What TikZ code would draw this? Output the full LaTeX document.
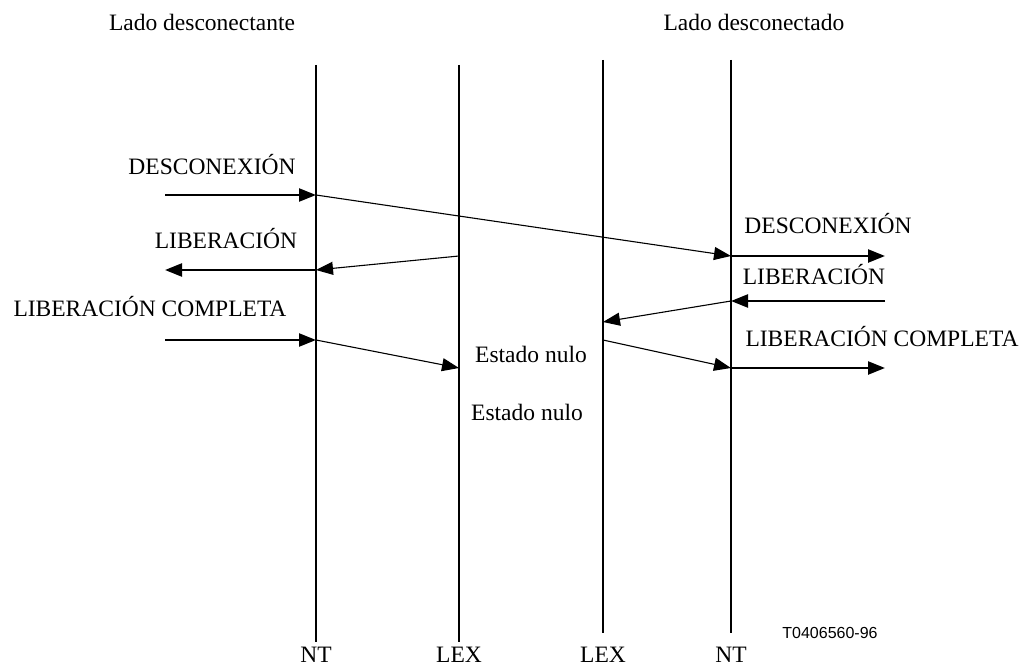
\documentclass[tikz,border=0pt]{standalone}
\usepackage{fontspec}
\setmainfont{Liberation Serif}
\newfontfamily\labsans{Liberation Sans}
\usetikzlibrary{arrows.meta}
\begin{document}
\begin{tikzpicture}[x=1pt,y=-1pt,
  lifeline/.style={line width=1.8pt},
  thickmsg/.style={line width=2.4pt,-{Triangle[length=17pt,width=13pt]}},
  thinmsg/.style={line width=1.1pt,-{Triangle[length=17pt,width=13pt]}},
  lab/.style={anchor=base,inner sep=0pt,font=\fontsize{23.5}{26}\selectfont},
  fig/.style={anchor=base,inner sep=0pt,font=\labsans\fontsize{16}{18}\selectfont}]
\useasboundingbox (0,0) rectangle (1023,666);
% lifelines
\coordinate (ntAt) at (316,65);  \coordinate (ntAb) at (316,642);
\coordinate (lexAt) at (459,65); \coordinate (lexAb) at (459,642);
\coordinate (lexBt) at (603,60); \coordinate (lexBb) at (603,633);
\coordinate (ntBt) at (731,60);  \coordinate (ntBb) at (731,633);
\draw[lifeline] (ntAt) -- (ntAb);
\draw[lifeline] (lexAt) -- (lexAb);
\draw[lifeline] (lexBt) -- (lexBb);
\draw[lifeline] (ntBt) -- (ntBb);
% headers
\node[lab] (hdrA) at (202,31) {Lado desconectante};
\node[lab] (hdrB) at (754,31) {Lado desconectado};
% bottom labels
\node[lab] (bNTA) at (316,662) {NT};
\node[lab] (bLEXA) at (459,662) {LEX};
\node[lab] (bLEXB) at (603,662) {LEX};
\node[lab] (bNTB) at (731,662) {NT};
\node[fig] (figid) at (830,638) {T0406560-96};
% message points
\coordinate (d0) at (165,195); \coordinate (d1) at (316,195);
\coordinate (d2) at (731,256); \coordinate (d3) at (885,256);
\coordinate (lr0) at (885,301); \coordinate (lr1) at (731,301);
\coordinate (lr2) at (603,322);
\coordinate (ll0) at (459,256); \coordinate (ll1) at (316,270);
\coordinate (ll2) at (165,270);
\coordinate (c0) at (165,340); \coordinate (c1) at (316,340);
\coordinate (c2) at (459,368);
\coordinate (cr0) at (603,340); \coordinate (cr1) at (731,368);
\coordinate (cr2) at (885,368);
% DESCONEXION
\draw[thickmsg] (d0) -- (d1);
\draw[thinmsg] (d1) -- (d2);
\draw[thickmsg] (d2) -- (d3);
% LIBERACION right side
\draw[thickmsg] (lr0) -- (lr1);
\draw[thinmsg] (lr1) -- (lr2);
% LIBERACION left side
\draw[thinmsg] (ll0) -- (ll1);
\draw[thickmsg] (ll1) -- (ll2);
% LIBERACION COMPLETA
\draw[thickmsg] (c0) -- (c1);
\draw[thinmsg] (c1) -- (c2);
\draw[thinmsg] (cr0) -- (cr1);
\draw[thickmsg] (cr1) -- (cr2);
% labels
\node[lab] (lDa) at (212,175) {DESCONEXIÓN};
\node[lab] (lLa) at (226,248) {LIBERACIÓN};
\node[lab] (lCa) at (150,316) {LIBERACIÓN COMPLETA};
\node[lab] (lDb) at (828,233) {DESCONEXIÓN};
\node[lab] (lLb) at (814,284) {LIBERACIÓN};
\node[lab] (lCb) at (882,346) {LIBERACIÓN COMPLETA};
\node[lab] (en1) at (531,362) {Estado nulo};
\node[lab] (en2) at (527,420) {Estado nulo};
\end{tikzpicture}
\end{document}
